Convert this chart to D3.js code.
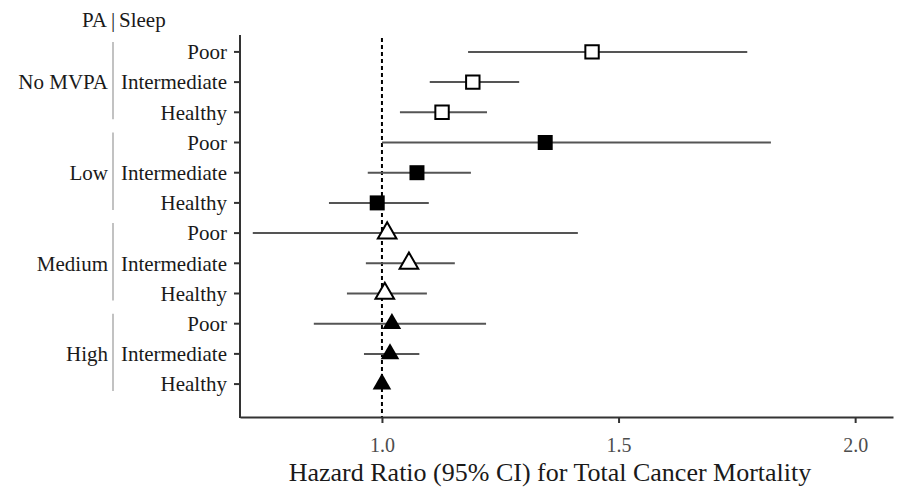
<!DOCTYPE html>
<html>
<head>
<meta charset="utf-8">
<script src="https://cdn.jsdelivr.net/npm/d3@7"></script>
<style>
    body { margin: 0; background: #fff; }
    text { font-family: "Liberation Serif", "Times New Roman", serif; }
</style>
</head>
<body>
<svg id="chart" width="897" height="490"></svg>
<script>
// PA groups and sleep categories, top to bottom
const paGroups = ['No MVPA', 'Low', 'Medium', 'High'];
const sleepLevels = ['Poor', 'Intermediate', 'Healthy'];

// hazard ratios and 95% CI, per PA group in sleep order
const hr    = [1.444, 1.192, 1.127,  1.345, 1.074, 0.990,  1.011, 1.057, 1.006,  1.021, 1.017, 1.000];
const lower = [1.182, 1.101, 1.038,  1.000, 0.970, 0.888,  0.727, 0.966, 0.926,  0.856, 0.962, 1.000];
const upper = [1.772, 1.290, 1.222,  1.822, 1.188, 1.099,  1.414, 1.154, 1.095,  1.220, 1.079, 1.000];

const xTicks = [1.0, 1.5, 2.0];
const xLabel = 'Hazard Ratio (95% CI) for Total Cancer Mortality';

// marker per PA group
const markers = [
    {shape: 'square', filled: false},
    {shape: 'square', filled: true},
    {shape: 'triangle', filled: false},
    {shape: 'triangle', filled: true}
];

const svg = d3.select('#chart');
const plotLeft = 240, plotRight = 893, plotTop = 35, plotBottom = 417;

const x = d3.scaleLinear().domain([0.70, 2.08]).range([plotLeft, plotRight]);
const y = d3.scaleLinear().domain([-0.56, 12.09]).range([plotTop, plotBottom]);

const rows = [];
paGroups.forEach((g, gi) => {
    sleepLevels.forEach((s, si) => {
        const i = gi * sleepLevels.length + si;
        rows.push({group: gi, sleep: s, idx: i, hr: hr[i], lo: lower[i], hi: upper[i]});
    });
});

// reference line at HR = 1
svg.append('line')
    .attr('x1', x(1)).attr('x2', x(1))
    .attr('y1', plotTop + 3).attr('y2', plotBottom)
    .attr('stroke', '#000')
    .attr('stroke-width', 2)
    .attr('stroke-dasharray', '4,3');

// confidence intervals
svg.selectAll('.ci')
    .data(rows.filter(d => d.hi > d.lo))
    .enter().append('line')
    .attr('class', 'ci')
    .attr('x1', d => x(d.lo)).attr('x2', d => x(d.hi))
    .attr('y1', d => y(d.idx)).attr('y2', d => y(d.idx))
    .attr('stroke', '#555')
    .attr('stroke-width', 2);

// point estimates
const filledSquare = d3.symbol().type(d3.symbolSquare).size(225);
const openSquare = d3.symbol().type(d3.symbolSquare).size(180);
const triangle = d3.symbol().type(d3.symbolTriangle).size(150);
svg.selectAll('.pt')
    .data(rows)
    .enter().append('path')
    .attr('class', 'pt')
    .attr('transform', d => `translate(${x(d.hr)},${y(d.idx)})`)
    .attr('d', d => markers[d.group].shape === 'square'
        ? (markers[d.group].filled ? filledSquare() : openSquare())
        : triangle())
    .attr('fill', d => markers[d.group].filled ? '#000' : '#fff')
    .attr('stroke', '#000')
    .attr('stroke-width', d => markers[d.group].filled ? 0 : 2);

// axes
const xAxis = svg.append('g')
    .attr('transform', `translate(0,${plotBottom})`)
    .call(d3.axisBottom(x).tickValues(xTicks).tickFormat(d3.format('.1f')).tickSize(6).tickSizeOuter(0));
xAxis.select('.domain').attr('stroke', '#333').attr('stroke-width', 2);
xAxis.selectAll('.tick line').attr('stroke', '#333').attr('stroke-width', 2);
xAxis.selectAll('.tick text')
    .attr('fill', '#4d4d4d')
    .attr('font-size', 20)
    .attr('font-family', '"Liberation Serif", serif')
    .attr('dy', null)
    .attr('y', 35);

svg.append('line')
    .attr('x1', plotLeft).attr('x2', plotLeft)
    .attr('y1', plotTop).attr('y2', plotBottom + 1)
    .attr('stroke', '#333')
    .attr('stroke-width', 2);

svg.selectAll('.ytick')
    .data(rows)
    .enter().append('line')
    .attr('class', 'ytick')
    .attr('x1', plotLeft - 6).attr('x2', plotLeft)
    .attr('y1', d => y(d.idx)).attr('y2', d => y(d.idx))
    .attr('stroke', '#333')
    .attr('stroke-width', 2);

// sleep labels
svg.selectAll('.sleep')
    .data(rows)
    .enter().append('text')
    .attr('class', 'sleep')
    .attr('x', 227)
    .attr('y', d => y(d.idx))
    .attr('dy', '0.35em')
    .attr('text-anchor', 'end')
    .attr('font-size', 21)
    .attr('fill', '#1a1a1a')
    .text(d => d.sleep);

// PA group labels and brackets
paGroups.forEach((g, gi) => {
    const first = gi * sleepLevels.length;
    const last = first + sleepLevels.length - 1;
    svg.append('line')
        .attr('x1', 113).attr('x2', 113)
        .attr('y1', y(first) - 10).attr('y2', y(last) + 7)
        .attr('stroke', '#999')
        .attr('stroke-width', 1.2);
    svg.append('text')
        .attr('x', 108)
        .attr('y', y(first + 1))
        .attr('dy', '0.35em')
        .attr('text-anchor', 'end')
        .attr('font-size', 21)
        .attr('fill', '#1a1a1a')
        .text(g);
});

// header
svg.append('text')
    .attr('x', 113)
    .attr('y', 27)
    .attr('text-anchor', 'middle')
    .attr('font-size', 21)
    .attr('fill', '#1a1a1a')
    .text('|');
svg.append('text')
    .attr('x', 107)
    .attr('y', 27)
    .attr('text-anchor', 'end')
    .attr('font-size', 21)
    .attr('fill', '#1a1a1a')
    .text('PA');
svg.append('text')
    .attr('x', 119)
    .attr('y', 27)
    .attr('font-size', 21)
    .attr('fill', '#1a1a1a')
    .text('Sleep');

// x axis title
svg.append('text')
    .attr('x', 550)
    .attr('y', 481)
    .attr('text-anchor', 'middle')
    .attr('font-size', 26)
    .attr('fill', '#1a1a1a')
    .text(xLabel);
</script>
</body>
</html>
